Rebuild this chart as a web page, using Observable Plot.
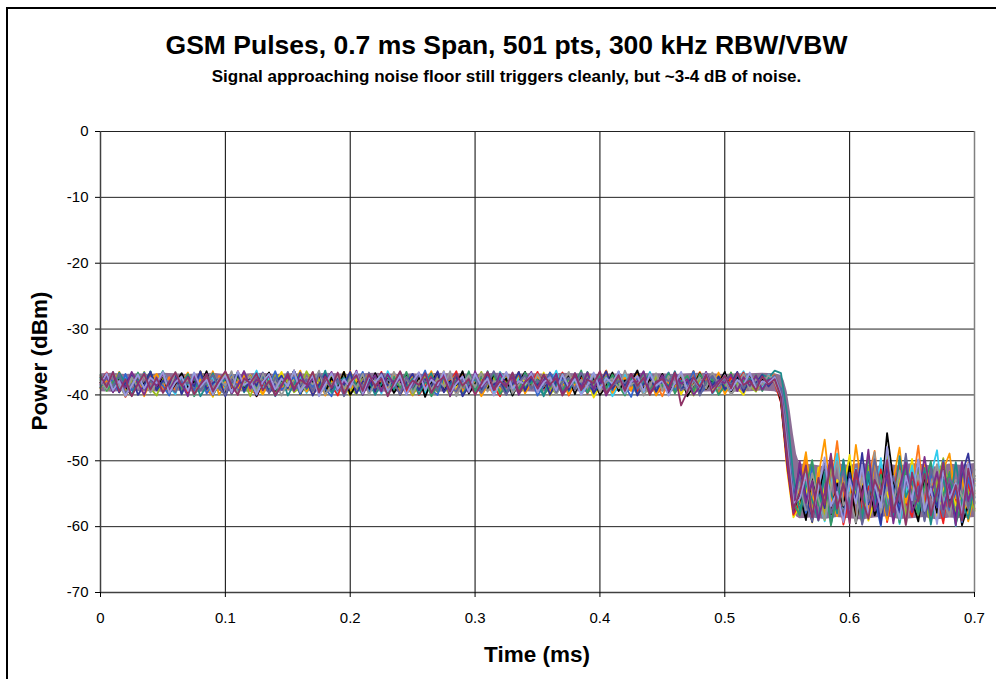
<!DOCTYPE html>
<html><head><meta charset="utf-8">
<script src="https://cdn.jsdelivr.net/npm/d3@7"></script>
<script src="https://cdn.jsdelivr.net/npm/@observablehq/plot@0.6"></script>
<style>
html,body{margin:0;padding:0;background:#fff;}
#wrap{position:relative;width:996px;height:679px;overflow:hidden;font-family:Arial,"Liberation Sans",sans-serif;}
#border{position:absolute;left:6px;top:7px;width:1200px;height:900px;border-left:2px solid #000;border-top:2px solid #000;pointer-events:none;}
#head{height:110px;position:relative;}
#title{position:absolute;left:0;width:1013px;top:30px;text-align:center;font-weight:bold;font-size:26.5px;line-height:30px;}
#sub{position:absolute;left:0;width:1013px;top:66px;text-align:center;font-weight:bold;font-size:17px;line-height:22px;}
.axt{position:absolute;font-weight:bold;font-size:22.5px;white-space:nowrap;}
#xt{left:537px;top:655px;transform:translate(-50%,-50%);}
#yt{left:40px;top:361px;transform:translate(-50%,-50%) rotate(-90deg);}
</style></head>
<body><div id="wrap">
<div id="head"><div id="title">GSM Pulses, 0.7 ms Span, 501 pts, 300 kHz RBW/VBW</div>
<div id="sub">Signal approaching noise floor still triggers cleanly, but ~3-4 dB of noise.</div></div>
<div id="chart"></div>
<div class="axt" id="xt">Time (ms)</div>
<div class="axt" id="yt">Power (dBm)</div>
<div id="border"></div>
</div>
<script>
const xTicks = [0, 0.1, 0.2, 0.3, 0.4, 0.5, 0.6, 0.7];
const yTicks = [0, -10, -20, -30, -40, -50, -60, -70];
// each trace: "high" = pulse-on samples 0 .. 0.54 ms, "low" = 0.545 .. 0.70 ms (edge + noise floor)
const highEnd = 0.54, lowStart = 0.545, lowEnd = 0.70;

const high1 = [-37.6,-39.4,-36.5,-38.9,-37.2,-40.1,-38.3,-36.8,-39.6,-37.9,-36.4,-38.7,-39.9,-37.0,-38.5,-36.7,-39.2,-38.0,-37.3,-40.0,-38.6,-36.9,-39.5,-37.7,-38.2,-36.3,-39.1,-37.5,-40.2,-38.4,-36.6,-38.8,-37.1,-39.7,-38.1,-36.5,-39.3,-37.8,-40.0,-37.4,-38.9,-36.8,-39.6,-38.2,-37.0,-39.8,-36.4,-38.6,-37.5,-39.2,-38.0,-36.7,-39.9,-37.6,-38.4,-36.9,-40.1,-38.3,-37.2,-39.4,-36.6,-38.8,-37.9,-39.7,-36.5,-38.1,-40.0,-37.4,-38.7,-36.8,-39.3,-37.7,-38.5,-36.3,-39.5,-38.2,-37.1,-39.9,-38.0,-36.7,-39.1,-37.3,-40.2,-38.6,-36.9,-38.4,-37.8,-39.6,-36.5,-38.9,-37.5,-40.0,-38.1,-36.8,-39.4,-37.6,-38.3,-36.6,-39.8,-38.7,-37.0,-39.2,-37.9,-36.4,-38.5,-37.2,-39.0,-36.9,-37.8];
const low1 = [-39.8,-47.0,-55.5,-52.6,-57.4,-50.3,-55.9,-59.2,-53.8,-48.9,-57.1,-54.4,-51.2,-58.6,-53.0,-56.3,-49.6,-57.8,-52.5,-59.6,-55.0,-50.7,-56.1,-58.4,-52.2,-48.4,-56.7,-53.6,-59.9,-51.5,-55.4,-53.1];

const high2 = [-38.2,-36.6,-39.4,-37.5,-40.3,-38.0,-36.9,-39.1,-37.3,-38.8,-36.5,-39.7,-38.3,-37.0,-39.9,-36.8,-38.6,-37.6,-40.0,-38.1,-37.2,-39.3,-36.4,-38.9,-37.8,-40.2,-38.4,-36.7,-39.5,-37.4,-38.7,-36.3,-39.8,-38.0,-37.1,-39.2,-36.9,-38.5,-40.1,-37.7,-38.3,-36.6,-39.6,-37.3,-38.9,-36.5,-39.9,-38.2,-37.0,-39.4,-37.8,-40.0,-38.6,-36.8,-39.1,-37.5,-38.1,-36.4,-39.7,-38.4,-37.1,-39.3,-36.7,-38.8,-40.2,-37.6,-38.0,-36.9,-39.5,-38.3,-36.5,-39.0,-37.4,-38.7,-36.6,-40.1,-38.2,-37.2,-39.8,-37.9,-38.5,-36.3,-39.4,-37.7,-38.9,-36.8,-39.6,-38.1,-37.0,-40.0,-38.6,-36.7,-39.2,-37.5,-38.3,-36.4,-39.9,-37.8,-38.8,-36.9,-39.3,-37.3,-38.0,-36.6,-39.1,-37.6,-38.4,-37.1,-38.2];
const low2 = [-41.2,-51.0,-58.2,-56.3,-52.0,-58.9,-54.1,-50.2,-57.5,-53.4,-59.7,-55.6,-51.5,-57.9,-53.9,-56.8,-51.3,-59.3,-54.7,-50.4,-56.2,-58.5,-53.0,-57.0,-50.9,-55.2,-59.5,-52.4,-55.8,-58.1,-53.5,-57.3];

const high3 = [-39.0,-37.1,-38.4,-36.5,-39.6,-38.1,-37.4,-40.2,-37.9,-36.8,-38.6,-39.8,-37.3,-38.2,-36.6,-39.4,-37.7,-38.9,-36.4,-40.0,-38.3,-37.0,-39.2,-36.9,-38.7,-37.5,-39.9,-38.0,-36.7,-39.1,-37.6,-38.5,-36.3,-39.5,-38.2,-37.2,-40.1,-37.8,-38.6,-36.5,-39.3,-37.9,-38.1,-36.8,-39.7,-37.4,-38.8,-36.6,-40.0,-38.4,-37.0,-39.2,-38.3,-36.4,-39.6,-37.7,-38.0,-36.9,-39.4,-38.7,-37.3,-40.2,-38.5,-36.7,-39.0,-37.6,-38.9,-36.5,-39.8,-38.1,-37.2,-38.6,-36.6,-39.5,-37.9,-40.0,-38.3,-36.8,-39.1,-37.5,-38.4,-36.3,-39.7,-38.0,-37.4,-39.3,-36.9,-38.8,-37.1,-40.1,-38.2,-36.7,-39.6,-37.8,-38.5,-36.4,-39.2,-37.3,-38.9,-36.6,-39.9,-38.0,-37.5,-38.7,-36.8,-39.4,-37.7,-38.3,-37.0];
const low3 = [-40.7,-49.6,-57.0,-53.9,-48.7,-56.5,-52.3,-46.8,-55.6,-58.4,-51.0,-56.0,-47.6,-54.2,-57.7,-50.0,-54.8,-59.0,-52.8,-48.0,-56.4,-53.3,-58.5,-50.5,-55.1,-57.9,-51.4,-48.9,-55.7,-52.6,-59.2,-54.9];

const high4 = [-36.9,-39.3,-38.0,-37.4,-40.0,-38.6,-36.6,-39.1,-37.8,-38.4,-36.4,-39.7,-37.6,-38.9,-36.8,-40.2,-38.2,-37.0,-39.5,-38.5,-37.3,-39.9,-36.5,-38.7,-37.7,-39.2,-36.9,-38.1,-40.1,-37.5,-38.8,-36.3,-39.4,-38.3,-37.1,-39.8,-36.7,-38.6,-37.9,-39.0,-36.6,-38.5,-40.0,-37.4,-38.2,-36.8,-39.6,-37.2,-38.9,-36.5,-39.3,-38.0,-37.6,-40.2,-38.4,-36.9,-39.1,-37.8,-38.7,-36.4,-39.5,-37.3,-38.1,-36.7,-39.9,-38.5,-37.0,-39.2,-36.6,-38.3,-37.7,-40.0,-38.8,-36.8,-39.4,-37.5,-38.2,-36.3,-39.7,-38.0,-37.2,-39.0,-36.9,-38.6,-40.1,-37.4,-38.4,-36.5,-39.3,-37.9,-38.7,-36.7,-39.8,-38.1,-37.1,-39.5,-36.8,-38.3,-37.6,-40.0,-38.5,-36.6,-39.1,-37.8,-38.9,-37.0,-39.4,-37.5,-38.0];
const low4 = [-40.2,-48.4,-56.3,-58.3,-54.0,-49.9,-56.8,-52.4,-59.8,-55.1,-50.6,-56.5,-53.2,-58.9,-49.2,-55.8,-52.1,-57.4,-54.3,-59.4,-51.0,-55.5,-58.2,-53.7,-50.1,-57.0,-55.2,-51.7,-59.6,-56.2,-50.8,-54.6];

const high5 = [-38.1,-36.8,-39.5,-37.3,-38.7,-40.1,-37.6,-38.4,-36.5,-39.2,-37.0,-39.8,-38.3,-36.7,-39.0,-37.9,-38.6,-36.4,-40.0,-38.2,-37.5,-39.4,-36.9,-38.8,-37.2,-40.2,-38.0,-36.6,-39.3,-37.7,-38.5,-36.3,-39.9,-37.8,-38.1,-36.8,-39.6,-37.4,-38.9,-36.5,-40.0,-38.4,-37.1,-39.2,-36.7,-38.7,-37.6,-39.7,-38.2,-36.9,-39.1,-37.3,-40.3,-38.0,-36.6,-39.5,-37.9,-38.5,-36.4,-39.8,-38.3,-37.0,-39.3,-36.8,-38.6,-37.5,-40.1,-38.1,-36.5,-39.0,-37.7,-38.9,-36.7,-39.6,-38.2,-37.2,-39.9,-36.9,-38.4,-37.4,-40.0,-38.7,-36.6,-39.4,-37.8,-38.0,-36.3,-39.2,-37.6,-38.8,-36.8,-39.7,-38.3,-37.1,-40.2,-38.5,-36.7,-39.1,-37.9,-38.2,-36.5,-39.5,-37.3,-38.6,-36.9,-39.0,-37.7,-38.3,-37.2];
const low5 = [-41.0,-50.0,-57.6,-55.0,-59.0,-52.0,-56.3,-50.4,-58.1,-53.5,-57.0,-50.8,-59.5,-54.2,-52.1,-58.3,-55.8,-45.8,-53.0,-57.4,-50.1,-56.0,-59.2,-52.7,-54.9,-57.9,-51.4,-56.4,-53.2,-59.8,-56.7,-52.3];

const high6 = [-37.4,-38.9,-36.7,-39.6,-38.1,-37.0,-40.0,-38.5,-36.5,-39.3,-37.8,-38.4,-36.9,-39.9,-37.2,-38.7,-36.4,-39.1,-38.2,-37.6,-40.2,-38.0,-36.8,-39.4,-37.5,-38.6,-36.6,-39.7,-38.3,-37.1,-39.0,-36.3,-38.8,-37.7,-40.1,-38.4,-36.9,-39.2,-37.3,-38.5,-36.5,-39.8,-38.0,-37.4,-39.5,-36.7,-38.6,-37.9,-40.0,-38.2,-36.8,-39.3,-37.6,-38.9,-36.4,-39.6,-38.1,-37.2,-40.2,-38.7,-37.0,-39.1,-36.6,-38.4,-37.8,-39.9,-38.3,-36.5,-39.4,-37.5,-38.6,-36.9,-40.0,-38.0,-37.3,-39.2,-36.7,-38.8,-37.6,-39.7,-38.2,-36.4,-39.0,-37.9,-38.5,-36.8,-40.1,-38.4,-37.1,-39.5,-37.7,-38.9,-36.6,-39.3,-38.0,-37.4,-39.8,-36.9,-38.6,-37.2,-39.1,-38.3,-36.5,-39.6,-37.8,-38.1,-37.0,-38.7,-37.5];
const low6 = [-39.6,-47.6,-55.9,-51.2,-55.3,-59.3,-53.0,-57.2,-49.6,-54.9,-58.7,-51.8,-56.0,-48.8,-56.6,-53.8,-59.6,-50.9,-54.6,-57.8,-52.5,-56.1,-49.9,-59.0,-53.6,-57.1,-51.6,-55.0,-58.6,-52.1,-48.9,-55.6];

const high7 = [-38.8,-37.2,-39.5,-36.6,-38.3,-40.0,-37.7,-38.9,-36.4,-39.2,-37.9,-38.5,-36.8,-39.8,-38.1,-37.3,-40.2,-38.6,-36.7,-39.0,-37.5,-38.2,-36.5,-39.6,-37.8,-38.7,-36.9,-39.3,-38.0,-37.1,-40.1,-38.4,-36.6,-39.1,-37.6,-38.9,-36.3,-39.7,-38.2,-37.4,-38.6,-36.8,-39.4,-37.9,-40.0,-38.3,-37.0,-39.2,-36.5,-38.7,-37.5,-39.9,-38.1,-36.7,-39.5,-37.2,-38.4,-36.9,-40.1,-38.0,-37.7,-39.3,-36.4,-38.8,-37.4,-39.6,-38.5,-36.6,-39.0,-37.9,-38.2,-40.2,-37.1,-38.6,-36.8,-39.4,-37.6,-38.9,-36.5,-39.8,-38.3,-37.3,-39.1,-36.9,-38.5,-37.8,-40.0,-38.1,-36.7,-39.5,-37.4,-38.7,-36.4,-39.2,-38.0,-37.6,-39.7,-36.8,-38.4,-37.2,-39.3,-38.1,-36.6,-38.9,-37.5,-38.3,-36.9,-37.4,-36.3];
const low7 = [-36.7,-43.0,-52.5,-57.6,-53.2,-56.0,-59.1,-51.6,-54.8,-58.0,-49.8,-56.4,-53.9,-59.4,-51.9,-56.9,-55.0,-52.2,-58.5,-49.3,-55.5,-53.1,-57.5,-51.1,-59.7,-54.4,-52.8,-57.0,-50.2,-56.2,-58.8,-53.7];

const high8 = [-37.8,-39.1,-36.6,-38.5,-40.2,-37.3,-38.9,-36.8,-39.6,-38.2,-37.0,-39.4,-36.5,-38.7,-37.6,-40.0,-38.3,-36.9,-39.2,-37.5,-38.6,-36.4,-39.8,-38.0,-37.2,-39.5,-36.7,-38.8,-37.9,-40.1,-38.1,-36.6,-39.3,-37.4,-38.4,-36.3,-39.9,-38.6,-37.1,-39.0,-37.7,-38.9,-36.8,-40.0,-38.2,-37.5,-39.4,-36.5,-38.5,-37.3,-39.7,-38.0,-36.9,-39.2,-37.6,-38.7,-36.4,-40.2,-38.3,-37.0,-38.8,-36.7,-39.5,-37.9,-38.1,-36.6,-39.8,-38.4,-37.2,-39.1,-36.8,-38.6,-37.4,-40.0,-38.2,-36.5,-39.3,-37.7,-38.9,-36.9,-39.6,-38.0,-37.5,-39.0,-36.3,-38.4,-37.8,-40.1,-38.6,-36.7,-39.4,-37.1,-38.3,-36.9,-39.7,-38.5,-37.3,-39.0,-36.6,-38.2,-37.9,-40.0,-38.7,-36.8,-39.2,-37.6,-38.4,-37.0,-38.1];
const low8 = [-40.4,-49.3,-57.1,-53.4,-57.5,-51.9,-55.8,-58.9,-54.3,-50.1,-56.8,-55.0,-59.4,-52.6,-56.1,-48.7,-57.9,-54.0,-56.5,-51.5,-59.8,-55.3,-52.2,-57.6,-53.8,-50.5,-56.3,-58.4,-52.9,-55.4,-57.2,-51.3];

const high9 = [-38.4,-36.7,-39.3,-37.9,-40.1,-38.6,-36.9,-39.0,-37.4,-38.2,-36.5,-39.7,-38.1,-37.2,-39.4,-36.6,-38.8,-37.7,-40.0,-38.3,-37.0,-39.6,-36.4,-38.5,-37.8,-39.9,-38.0,-36.8,-39.2,-37.5,-38.7,-36.3,-39.5,-38.2,-37.1,-40.2,-38.4,-36.7,-39.1,-37.6,-38.9,-36.5,-39.8,-37.3,-38.1,-36.9,-39.4,-38.6,-37.0,-40.0,-38.0,-36.6,-39.2,-37.7,-38.5,-36.4,-39.7,-38.3,-37.2,-39.5,-36.8,-38.7,-37.5,-40.1,-38.2,-36.5,-39.0,-37.9,-38.4,-36.7,-39.6,-38.1,-37.3,-39.3,-36.9,-38.8,-37.6,-40.0,-38.5,-36.6,-39.1,-37.4,-38.3,-36.4,-39.8,-38.0,-37.1,-39.4,-36.8,-38.6,-37.8,-40.1,-38.2,-36.5,-39.2,-37.5,-38.9,-36.7,-39.6,-38.4,-37.0,-39.3,-37.7,-38.5,-36.6,-39.0,-37.9,-38.2,-37.3];
const low9 = [-40.0,-48.0,-56.4,-55.8,-52.0,-58.2,-54.1,-49.5,-56.9,-54.7,-59.3,-52.8,-56.5,-50.6,-58.4,-53.5,-57.1,-47.9,-55.2,-58.9,-52.3,-56.0,-49.8,-57.6,-54.2,-59.6,-51.5,-55.7,-53.4,-58.0,-50.4,-55.0];

const high10 = [-37.1,-38.8,-36.5,-39.5,-37.6,-40.2,-38.3,-36.8,-39.2,-37.4,-39.7,-38.0,-36.6,-38.6,-37.3,-39.9,-38.4,-36.9,-39.4,-37.8,-36.4,-38.5,-40.0,-37.5,-38.2,-36.7,-39.3,-37.9,-40.1,-38.6,-36.8,-39.0,-37.7,-38.4,-36.5,-39.6,-37.2,-38.9,-36.6,-39.8,-38.1,-37.0,-39.4,-36.9,-38.7,-37.5,-40.2,-38.2,-36.4,-39.1,-37.8,-38.5,-36.7,-39.7,-38.0,-37.3,-39.5,-36.8,-38.6,-37.6,-40.0,-38.3,-36.5,-39.2,-37.9,-38.8,-36.6,-39.6,-38.1,-37.2,-39.0,-36.9,-38.4,-37.5,-40.1,-38.7,-36.7,-39.3,-37.7,-38.2,-36.4,-39.8,-38.5,-37.0,-39.4,-36.8,-38.6,-37.4,-40.0,-38.0,-37.6,-39.1,-36.6,-41.6,-39.5,-37.3,-38.8,-36.9,-39.7,-38.3,-37.1,-39.0,-36.7,-38.5,-37.8,-39.3,-37.2,-38.4,-37.6];
const low10 = [-40.3,-49.0,-57.4,-54.9,-50.7,-58.6,-52.6,-56.7,-49.3,-57.3,-53.4,-59.5,-51.4,-55.8,-58.8,-52.9,-55.1,-49.9,-57.8,-54.1,-59.7,-51.8,-56.2,-52.0,-58.3,-54.5,-50.3,-57.0,-53.7,-59.1,-51.2,-56.3];

const high11 = [-38.5,-37.0,-39.6,-37.8,-38.9,-36.5,-38.2,-40.0,-37.4,-38.7,-36.6,-39.3,-37.6,-38.4,-40.2,-37.1,-38.8,-36.8,-39.5,-38.0,-37.3,-39.8,-38.6,-36.4,-39.0,-37.7,-38.3,-36.9,-40.1,-38.5,-37.2,-39.4,-36.7,-38.9,-37.5,-39.7,-38.1,-36.5,-39.2,-37.9,-38.6,-36.3,-40.0,-38.2,-37.0,-39.5,-36.8,-38.4,-37.6,-39.9,-38.3,-36.6,-39.1,-37.4,-38.7,-36.9,-40.2,-38.0,-37.2,-39.6,-36.4,-38.9,-37.8,-39.3,-36.7,-38.5,-37.3,-40.0,-38.1,-36.5,-39.4,-37.7,-38.6,-36.8,-39.8,-38.2,-37.1,-38.9,-36.6,-39.1,-37.5,-40.1,-38.4,-36.9,-39.2,-37.9,-38.0,-36.4,-39.7,-38.6,-37.0,-39.5,-36.7,-38.3,-37.6,-40.0,-38.8,-36.5,-39.0,-37.8,-38.2,-36.9,-39.4,-37.3,-38.6,-37.1,-39.2,-37.7,-37.5];
const low11 = [-40.1,-50.4,-57.9,-50.0,-56.4,-53.1,-59.0,-54.8,-48.9,-57.2,-53.5,-58.6,-51.4,-55.9,-48.3,-57.6,-54.6,-52.2,-59.5,-54.0,-50.3,-57.8,-55.5,-49.4,-55.2,-51.7,-57.4,-53.6,-59.8,-50.2,-56.1,-52.7];

const high12 = [-37.7,-39.2,-36.6,-38.4,-40.2,-37.9,-38.1,-36.9,-39.5,-38.3,-37.3,-39.8,-36.7,-38.8,-37.6,-39.3,-36.4,-38.5,-40.3,-37.5,-38.2,-36.8,-39.6,-38.6,-37.0,-38.9,-39.9,-37.8,-38.3,-36.5,-39.1,-37.4,-40.0,-38.1,-36.6,-38.7,-37.9,-39.4,-36.9,-38.4,-40.1,-37.6,-38.2,-36.8,-39.7,-38.5,-37.1,-38.9,-37.8,-39.6,-38.0,-36.7,-39.3,-37.9,-38.6,-36.4,-40.0,-38.7,-37.2,-38.3,-37.5,-39.5,-36.8,-38.5,-39.8,-37.4,-38.9,-37.0,-38.1,-37.7,-39.2,-36.6,-40.1,-38.4,-37.3,-38.0,-36.9,-39.0,-37.8,-40.4,-38.6,-37.2,-39.0,-36.5,-38.7,-37.6,-39.7,-38.2,-36.8,-39.4,-37.5,-38.4,-36.9,-39.9,-38.0,-37.3,-38.8,-36.7,-39.3,-37.9,-38.6,-36.6,-38.9,-40.0,-37.4,-38.4,-37.1,-38.1,-37.6];
const low12 = [-40.8,-51.5,-58.6,-56.9,-53.8,-59.4,-51.0,-55.4,-58.0,-52.9,-54.3,-49.1,-56.3,-53.0,-59.1,-55.9,-51.5,-54.8,-58.3,-52.3,-56.0,-49.7,-57.5,-53.9,-50.8,-58.7,-54.6,-51.8,-56.8,-55.2,-59.0,-52.8];

const high13 = [-38.9,-37.2,-38.0,-39.6,-36.8,-39.3,-38.5,-36.6,-39.0,-37.9,-38.6,-40.1,-37.4,-38.2,-36.9,-39.4,-36.5,-39.8,-38.3,-37.5,-38.7,-36.7,-39.5,-37.8,-38.1,-40.0,-37.0,-38.6,-36.4,-39.2,-38.4,-37.3,-39.9,-37.6,-38.8,-36.6,-39.1,-40.2,-37.7,-38.0,-36.8,-38.9,-36.5,-39.6,-38.2,-37.4,-39.7,-38.5,-37.1,-38.7,-37.9,-38.3,-36.3,-39.3,-40.0,-37.2,-38.6,-37.8,-38.1,-36.9,-39.0,-39.5,-37.3,-38.4,-37.6,-38.8,-36.7,-39.4,-38.0,-37.5,-40.1,-38.7,-36.6,-38.1,-37.7,-39.2,-36.8,-38.5,-39.6,-37.0,-38.3,-37.9,-39.3,-36.5,-38.6,-40.3,-37.4,-38.0,-37.2,-38.9,-38.1,-36.6,-39.4,-37.8,-38.4,-36.4,-39.9,-38.7,-37.3,-38.2,-37.8,-39.0,-36.9,-38.0,-38.7,-37.6,-38.3,-37.2,-38.0];
const low13 = [-39.0,-46.4,-55.2,-53.8,-57.9,-50.6,-56.3,-52.2,-59.6,-55.2,-50.1,-56.9,-53.0,-58.8,-51.7,-55.6,-59.9,-51.1,-54.0,-57.4,-49.4,-56.0,-54.1,-58.2,-51.9,-55.1,-49.9,-57.5,-54.5,-59.3,-52.6,-56.5];

const high14 = [-37.3,-39.4,-38.2,-36.7,-39.8,-37.8,-38.6,-36.5,-39.0,-40.1,-37.6,-38.3,-36.9,-39.5,-38.0,-37.1,-39.2,-37.8,-40.0,-38.5,-36.6,-38.7,-37.4,-38.1,-40.2,-37.5,-38.0,-39.3,-36.8,-38.4,-37.7,-39.6,-38.8,-36.4,-38.2,-37.7,-39.7,-37.2,-38.6,-36.6,-38.9,-39.9,-37.0,-38.3,-37.9,-38.5,-36.9,-39.4,-38.0,-37.4,-40.0,-38.6,-37.1,-38.9,-37.5,-38.2,-40.2,-37.0,-38.7,-37.9,-38.3,-36.5,-39.1,-37.3,-39.6,-38.1,-37.0,-39.8,-38.8,-37.6,-38.0,-37.2,-38.9,-39.8,-37.5,-38.5,-37.8,-39.2,-36.6,-38.4,-39.5,-37.3,-38.2,-37.7,-39.0,-36.9,-38.7,-38.0,-40.0,-37.2,-38.4,-37.6,-39.3,-36.7,-38.6,-40.1,-37.4,-38.1,-37.8,-38.9,-36.8,-39.2,-38.3,-37.1,-38.6,-39.5,-37.5,-38.4,-37.4];
const low14 = [-40.5,-49.8,-57.2,-56.2,-51.1,-57.8,-53.5,-59.0,-50.3,-55.5,-58.6,-52.4,-54.6,-59.5,-50.8,-56.7,-53.7,-48.8,-56.3,-52.0,-58.1,-55.0,-51.3,-56.6,-59.3,-53.3,-49.6,-55.4,-57.9,-51.8,-54.7,-57.6];

const high15 = [-38.1,-37.5,-38.7,-36.8,-39.8,-38.3,-37.2,-39.1,-38.0,-38.5,-36.6,-38.8,-39.6,-37.7,-38.3,-36.9,-39.3,-38.1,-37.0,-39.0,-40.0,-37.8,-38.6,-36.4,-38.9,-37.4,-38.2,-39.7,-37.3,-38.7,-36.5,-39.2,-38.5,-37.6,-39.5,-36.8,-38.0,-38.8,-37.8,-40.2,-38.4,-37.1,-39.0,-36.6,-38.6,-39.4,-37.7,-38.2,-39.9,-37.3,-38.9,-36.9,-38.0,-37.6,-39.3,-36.7,-38.8,-39.5,-37.5,-38.4,-37.2,-39.7,-38.3,-36.4,-38.5,-40.0,-37.8,-38.1,-37.0,-39.1,-37.8,-38.7,-37.0,-39.6,-38.0,-37.4,-39.2,-36.6,-38.4,-38.9,-36.5,-39.8,-38.6,-37.8,-38.2,-36.9,-39.1,-37.6,-39.4,-38.5,-37.2,-37.9,-36.7,-39.3,-38.8,-37.4,-40.1,-38.0,-37.1,-38.7,-37.7,-38.3,-37.8,-39.0,-36.8,-38.5,-37.3,-38.0,-37.0];
const low15 = [-39.3,-46.5,-55.9,-52.4,-56.7,-59.1,-53.6,-50.6,-58.0,-54.7,-51.5,-57.2,-53.1,-59.7,-55.8,-49.8,-54.0,-58.3,-52.3,-56.2,-48.9,-56.9,-53.9,-59.2,-51.0,-55.3,-58.5,-52.7,-54.3,-50.1,-57.3,-53.0];

const high16 = [-38.9,-37.8,-38.3,-36.9,-39.2,-40.0,-37.4,-38.6,-36.7,-38.0,-39.1,-37.3,-39.6,-38.2,-37.6,-38.8,-36.5,-39.3,-40.1,-37.1,-38.5,-37.9,-38.1,-36.8,-39.4,-39.8,-37.6,-38.3,-37.0,-38.9,-38.2,-36.6,-39.5,-37.7,-40.0,-38.6,-37.2,-38.0,-37.9,-39.0,-36.4,-38.7,-39.7,-37.5,-38.4,-36.9,-39.2,-38.2,-37.7,-38.6,-40.1,-37.3,-38.0,-36.7,-39.0,-38.3,-37.8,-39.6,-36.9,-38.8,-38.1,-37.6,-38.5,-40.0,-36.5,-38.7,-37.5,-38.3,-39.3,-37.0,-38.9,-37.8,-39.5,-38.2,-37.3,-38.4,-37.6,-38.9,-36.6,-38.0,-39.8,-37.5,-38.4,-38.1,-37.4,-39.4,-36.8,-38.6,-37.7,-38.2,-40.2,-37.8,-38.9,-37.3,-38.0,-38.5,-36.5,-39.1,-37.6,-39.7,-38.3,-37.4,-38.8,-37.8,-38.2,-37.1,-39.0,-37.7,-36.9];
const low16 = [-39.6,-48.4,-56.5,-54.3,-49.8,-57.2,-51.8,-58.4,-53.9,-47.0,-55.8,-51.2,-58.9,-55.3,-52.5,-48.5,-56.6,-53.0,-58.7,-51.0,-56.1,-54.2,-47.7,-57.0,-52.6,-55.2,-59.1,-51.6,-54.5,-57.8,-50.3,-53.5];

// drawing order (first underneath) and colours
const highs = [high12, high16, high1, high2, high3, high14, high5, high13, high4, high7, high6, high8, high15, high11, high9, high10];
const lows  = [low12,  low16,  low1,  low2,  low3,  low14,  low5,  low13,  low4,  low7,  low6,  low8,  low15,  low11,  low9,  low10];
const traceColors = ["#F0DC00", "#FF7A1A", "#33CCEE", "#EE2020", "#FF9900", "#99BB22", "#000000", "#3366CC", "#339966", "#1E8C8C", "#333399", "#969696", "#666699", "#7B2D8B", "#9999DD", "#8E3366"];

// dense core of the overlapping traces (times in ms, upper and lower power in dBm)
const envTime = [0,0.01,0.02,0.03,0.04,0.05,0.06,0.07,0.08,0.09,0.10,0.11,0.12,0.13,0.14,0.15,0.16,0.17,0.18,0.19,0.20,0.21,0.22,0.23,0.24,0.25,0.26,0.27,0.28,0.29,0.30,0.31,0.32,0.33,0.34,0.35,0.36,0.37,0.38,0.39,0.40,0.41,0.42,0.43,0.44,0.45,0.46,0.47,0.48,0.49,0.50,0.51,0.52,0.53,0.54,0.545,0.5475,0.55,0.5525,0.555,0.5575,0.56,0.57,0.58,0.59,0.60,0.61,0.62,0.63,0.64,0.65,0.66,0.67,0.68,0.69,0.70];
const envUpper = [-36.8,-36.7,-36.9,-36.8,-36.9,-36.7,-36.8,-36.9,-36.8,-36.7,-36.9,-36.9,-36.8,-36.7,-36.9,-36.8,-36.8,-36.9,-36.7,-36.8,-36.9,-36.8,-36.7,-36.8,-36.9,-36.8,-36.9,-36.7,-36.8,-36.8,-36.9,-36.8,-36.7,-36.9,-36.8,-36.8,-36.9,-36.7,-36.8,-36.8,-36.9,-36.8,-36.9,-36.7,-36.8,-36.8,-36.9,-36.8,-36.7,-36.8,-36.9,-36.8,-36.8,-36.7,-36.8,-37.0,-37.8,-39.5,-42.5,-46.0,-49.0,-50.5,-50.6,-50.9,-50.4,-50.7,-50.3,-51.0,-50.5,-50.8,-50.4,-50.6,-51.0,-50.5,-50.7,-50.4];
const envLower = [-39.5,-39.6,-39.4,-39.5,-39.5,-39.6,-39.4,-39.5,-39.6,-39.5,-39.4,-39.5,-39.6,-39.5,-39.6,-39.4,-39.5,-39.5,-39.6,-39.6,-39.5,-39.4,-39.5,-39.6,-39.5,-39.5,-39.4,-39.6,-39.5,-39.6,-39.5,-39.4,-39.5,-39.6,-39.5,-39.6,-39.5,-39.4,-39.5,-39.6,-39.5,-39.5,-39.4,-39.6,-39.6,-39.5,-39.5,-39.4,-39.6,-39.5,-39.5,-39.6,-39.5,-39.4,-39.5,-40.0,-44.0,-49.0,-53.5,-57.0,-58.5,-58.8,-58.7,-58.9,-58.6,-58.8,-59.0,-58.7,-58.5,-58.9,-58.8,-58.6,-59.0,-58.7,-58.8,-58.6];

const envelope = envTime.map((t, i) => ({t, hi: envUpper[i], lo: envLower[i]}));
const tracePoints = (h, l) =>
  h.map((p, i) => ({t: i * highEnd / (h.length - 1), p}))
   .concat(l.map((p, j) => ({t: lowStart + j * (lowEnd - lowStart) / (l.length - 1), p})));

const fmt = d => String(d);
const chart = Plot.plot({
  width: 996, height: 569,
  marginTop: 21, marginLeft: 100, marginRight: 22, marginBottom: 87,
  style: {fontFamily: 'Arial, "Liberation Sans", sans-serif', fontSize: "15px", color: "#000", background: "#fff"},
  x: {domain: [0, 0.7], label: null},
  y: {domain: [-70, 0], label: null},
  marks: [
    Plot.gridX(xTicks, {stroke: "#000", strokeOpacity: 1, strokeWidth: 1}),
    Plot.gridY(yTicks, {stroke: "#222", strokeOpacity: 1, strokeWidth: 1}),
    Plot.areaY(envelope, {x: "t", y1: "lo", y2: "hi", fill: "#8c6e95", curve: "linear"}),
    ...highs.map((h, k) => Plot.line(tracePoints(h, lows[k]), {x: "t", y: "p", stroke: traceColors[k], strokeWidth: 1.8})),
    Plot.ruleX([0.7], {stroke: "#808080", strokeWidth: 1.5}),
    Plot.ruleX([0], {stroke: "#404040", strokeWidth: 1.5}),
    Plot.ruleY([-70], {stroke: "#404040", strokeWidth: 1.5}),
    Plot.axisX(xTicks, {tickSize: 5, tickPadding: 15, tickFormat: fmt, stroke: "#000", fontSize: 15}),
    Plot.axisY(yTicks, {tickSize: 5, tickPadding: 7, tickFormat: fmt, stroke: "#000", fontSize: 15})
  ]
});
document.getElementById("chart").appendChild(chart);
</script>
</body></html>
